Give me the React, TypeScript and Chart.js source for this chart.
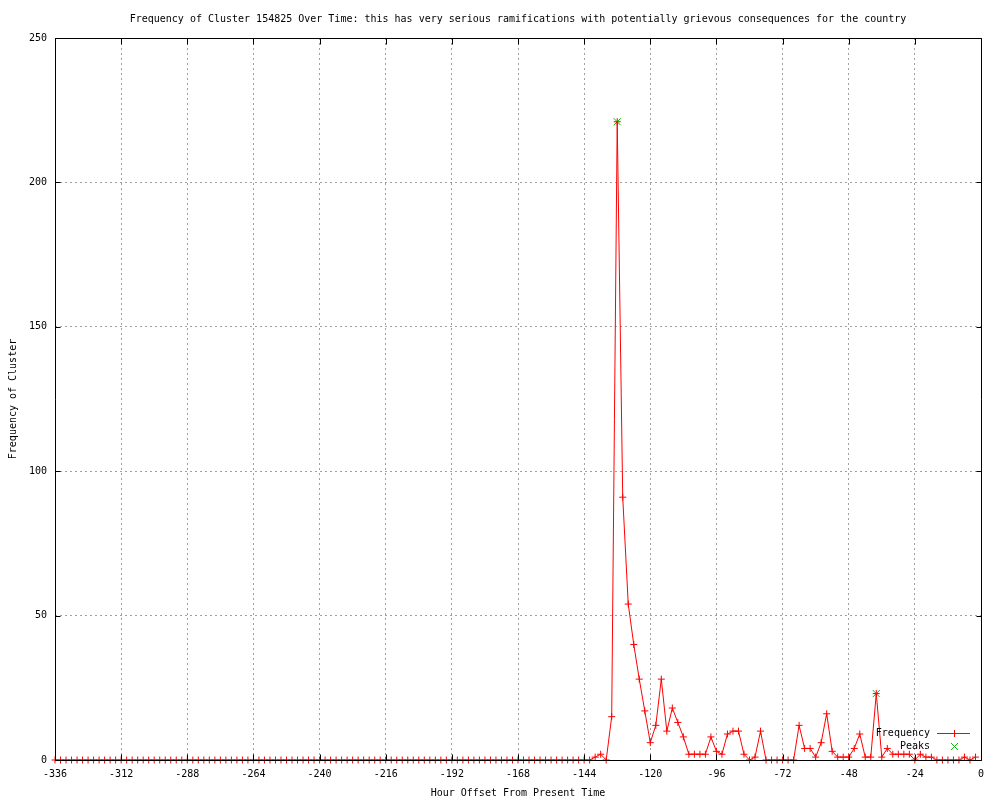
import React, { useEffect, useRef } from "react";
import { Chart, registerables } from "chart.js";

Chart.register(...registerables);

const TITLE =
  "Frequency of Cluster 154825 Over Time: this has very serious ramifications with potentially grievous consequences for the country";
const X_TITLE = "Hour Offset From Present Time";
const Y_TITLE = "Frequency of Cluster";
const SERIES_LABEL = "Frequency";
const PEAKS_LABEL = "Peaks";

// one sample every 2 hours, first sample at -336 h
const FIRST_HOUR = -336;
const HOUR_STEP = 2;

// hours -336 .. -2
const FREQUENCY = [
  // -336 .. -318
  0, 0, 0, 0, 0, 0, 0, 0, 0, 0,
  // -316 .. -298
  0, 0, 0, 0, 0, 0, 0, 0, 0, 0,
  // -296 .. -278
  0, 0, 0, 0, 0, 0, 0, 0, 0, 0,
  // -276 .. -258
  0, 0, 0, 0, 0, 0, 0, 0, 0, 0,
  // -256 .. -238
  0, 0, 0, 0, 0, 0, 0, 0, 0, 0,
  // -236 .. -218
  0, 0, 0, 0, 0, 0, 0, 0, 0, 0,
  // -216 .. -198
  0, 0, 0, 0, 0, 0, 0, 0, 0, 0,
  // -196 .. -178
  0, 0, 0, 0, 0, 0, 0, 0, 0, 0,
  // -176 .. -158
  0, 0, 0, 0, 0, 0, 0, 0, 0, 0,
  // -156 .. -142
  0, 0, 0, 0, 0, 0, 0, 0,
  // -140 .. -122
  1, 2, 0, 15, 221, 91, 54, 40, 28, 17,
  // -120 .. -102
  6, 12, 28, 10, 18, 13, 8, 2, 2, 2,
  // -100 .. -82
  2, 8, 3, 2, 9, 10, 10, 2, 0, 1,
  // -80 .. -62
  10, 0, 0, 0, 0, 0, 0, 12, 4, 4,
  // -60 .. -42
  1, 6, 16, 3, 1, 1, 1, 4, 9, 1,
  // -40 .. -22
  1, 23, 1, 4, 2, 2, 2, 2, 0, 2,
  // -20 .. -2
  1, 1, 0, 0, 0, 0, 0, 1, 0, 1,
];

const PEAK_HOURS = [-132, -38];
const PEAK_VALUES = [221, 23];

const X_MIN = -336;
const X_MAX = 0;
const X_STEP = 24;
const Y_MIN = 0;
const Y_MAX = 250;
const Y_STEP = 50;

const FONT = "'DejaVu Sans Mono', 'Liberation Mono', monospace";
const RED = "#ff0000";
const GREEN = "#00c000";
const GRID = "#a0a0a0";

const framePlugin = {
  id: "gnuplotFrame",
  afterDatasetsDraw(chart: any) {
    const { ctx, chartArea: a, scales } = chart;
    ctx.save();
    ctx.strokeStyle = "#000";
    ctx.lineWidth = 1;
    ctx.setLineDash([]);
    const L = Math.round(a.left) + 0.5;
    const R = Math.round(a.right) + 0.5;
    const T = Math.round(a.top) + 0.5;
    const B = Math.round(a.bottom) + 0.5;
    ctx.beginPath();
    ctx.rect(L, T, R - L, B - T);
    scales.x.ticks.forEach((t: any) => {
      const x = Math.round(scales.x.getPixelForValue(t.value)) + 0.5;
      ctx.moveTo(x, B);
      ctx.lineTo(x, B - 6);
      ctx.moveTo(x, T);
      ctx.lineTo(x, T + 6);
    });
    scales.y.ticks.forEach((t: any) => {
      const y = Math.round(scales.y.getPixelForValue(t.value)) + 0.5;
      ctx.moveTo(L, y);
      ctx.lineTo(L + 5, y);
      ctx.moveTo(R, y);
      ctx.lineTo(R - 5, y);
    });
    ctx.stroke();
    ctx.restore();
  },
};

const keyPlugin = {
  id: "gnuplotKey",
  afterDatasetsDraw(chart: any) {
    const { ctx, chartArea: a } = chart;
    ctx.save();
    ctx.font = `10px ${FONT}`;
    ctx.textAlign = "right";
    ctx.textBaseline = "middle";
    const rows = [...chart.data.datasets].sort(
      (p: any, q: any) => (p.keyRow ?? 0) - (q.keyRow ?? 0)
    );
    rows.forEach((ds: any, i: number) => {
      const y = Math.round(a.bottom - 27 + i * 13) + 0.5;
      ctx.fillStyle = "#000";
      ctx.fillText(ds.label, a.right - 51, y);
      ctx.strokeStyle = ds.borderColor;
      ctx.lineWidth = 1;
      ctx.beginPath();
      if (ds.showLine !== false) {
        ctx.moveTo(a.right - 44, y);
        ctx.lineTo(a.right - 11, y);
      }
      const mx = Math.round(a.right - 27) + 0.5;
      const r = ds.pointRadius;
      if (ds.pointStyle === "cross") {
        ctx.moveTo(mx - r, y);
        ctx.lineTo(mx + r, y);
        ctx.moveTo(mx, y - r);
        ctx.lineTo(mx, y + r);
      } else {
        const d = r * Math.SQRT1_2;
        ctx.moveTo(mx - d, y - d);
        ctx.lineTo(mx + d, y + d);
        ctx.moveTo(mx - d, y + d);
        ctx.lineTo(mx + d, y - d);
      }
      ctx.stroke();
    });
    ctx.restore();
  },
};

export default function App() {
  const ref = useRef<HTMLCanvasElement>(null);

  useEffect(() => {
    if (!ref.current) return;
    const freqPoints = FREQUENCY.map((v, i) => ({
      x: FIRST_HOUR + i * HOUR_STEP,
      y: v,
    }));
    const peakPoints = PEAK_HOURS.map((h, i) => ({ x: h, y: PEAK_VALUES[i] }));

    const chart = new Chart(ref.current, {
      type: "line",
      data: {
        datasets: [
          {
            label: SERIES_LABEL,
            data: freqPoints,
            borderColor: RED,
            backgroundColor: RED,
            borderWidth: 1,
            pointStyle: "cross",
            pointRadius: 3.5,
            pointBorderColor: RED,
            pointBorderWidth: 1,
            pointHoverRadius: 3.5,
            tension: 0,
            clip: false,
            order: 1,
            keyRow: 0,
          } as any,
          {
            label: PEAKS_LABEL,
            data: peakPoints,
            borderColor: GREEN,
            backgroundColor: GREEN,
            borderWidth: 1,
            showLine: false,
            pointStyle: "crossRot",
            pointRadius: 5,
            pointBorderColor: GREEN,
            pointBorderWidth: 1,
            pointHoverRadius: 5,
            clip: false,
            order: 2,
            keyRow: 1,
          } as any,
        ],
      },
      options: {
        animation: false,
        responsive: false,
        devicePixelRatio: 1,
        events: [],
        layout: { padding: { left: 0, right: 19, top: 0, bottom: 0 } },
        plugins: {
          legend: { display: false },
          tooltip: { enabled: false },
          title: {
            display: true,
            text: TITLE,
            fullSize: false,
            color: "#000",
            font: { family: FONT, size: 10, weight: "normal" as any, lineHeight: 1.2 },
            padding: { top: 13, bottom: 13 },
          },
        },
        scales: {
          x: {
            type: "linear",
            min: X_MIN,
            max: X_MAX,
            afterFit: (s: any) => {
              s.height = 40;
            },
            ticks: {
              stepSize: X_STEP,
              autoSkip: false,
              color: "#000",
              padding: 8,
              maxRotation: 0,
              font: { family: FONT, size: 10 },
              callback: (v: any) => String(v),
            },
            grid: { color: GRID, lineWidth: 1, drawTicks: false },
            border: { display: false, dash: [2, 3] },
            title: {
              display: true,
              text: X_TITLE,
              color: "#000",
              font: { family: FONT, size: 10, lineHeight: 1.2 },
              padding: { top: 0, bottom: 1 },
            },
          },
          y: {
            type: "linear",
            min: Y_MIN,
            max: Y_MAX,
            afterFit: (s: any) => {
              s.width = 55;
            },
            ticks: {
              stepSize: Y_STEP,
              color: "#000",
              padding: 8,
              font: { family: FONT, size: 10 },
              callback: (v: any) => String(v),
            },
            grid: { color: GRID, lineWidth: 1, drawTicks: false },
            border: { display: false, dash: [2, 3] },
            title: {
              display: true,
              text: Y_TITLE,
              color: "#000",
              font: { family: FONT, size: 10, lineHeight: 1.2 },
              padding: { top: 7, bottom: 0 },
            },
          },
        },
      },
      plugins: [framePlugin, keyPlugin],
    });
    return () => chart.destroy();
  }, []);

  return (
    <div
      style={{
        position: "absolute",
        left: 0,
        top: 0,
        width: 1000,
        height: 800,
        background: "#fff",
      }}
    >
      <canvas
        ref={ref}
        width={1000}
        height={800}
        style={{ display: "block", width: 1000, height: 800 }}
      />
    </div>
  );
}
